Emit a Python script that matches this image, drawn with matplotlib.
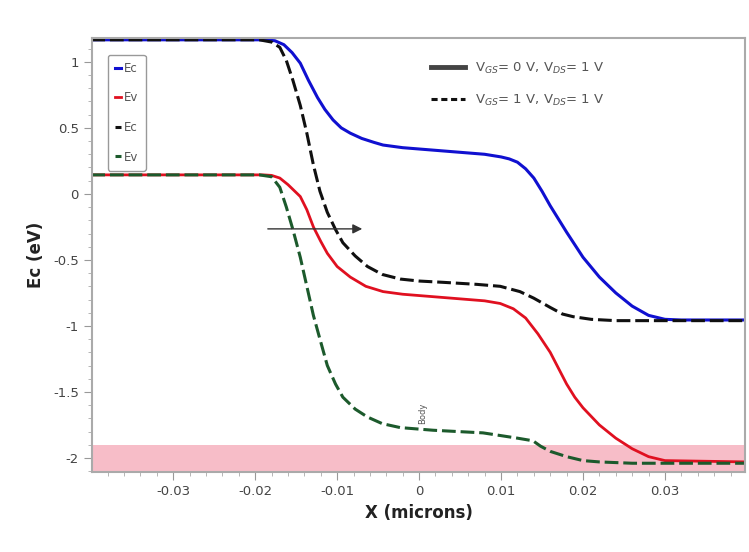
import numpy as np
import matplotlib.pyplot as plt
from matplotlib.lines import Line2D
plt.rcParams.update({'font.size': 9, 'font.family': 'DejaVu Sans'})

#%% data (x in microns, energy in eV)
x_ec0 = [-0.04, -0.019, -0.0176, -0.0165, -0.0155, -0.0145, -0.0135, -0.0124, -0.0115, -0.0105,
         -0.0095, -0.0084, -0.007, -0.0055, -0.0044, -0.002, 0.0, 0.004, 0.008, 0.010, 0.011,
         0.012, 0.013, 0.014, 0.015, 0.016, 0.018, 0.020, 0.022, 0.024, 0.026, 0.028, 0.030, 0.032, 0.04]
y_ec0 = [1.167, 1.167, 1.16, 1.13, 1.07, 0.99, 0.86, 0.73, 0.64, 0.56,
         0.50, 0.46, 0.42, 0.39, 0.37, 0.35, 0.34, 0.32, 0.30, 0.28, 0.265,
         0.24, 0.19, 0.12, 0.02, -0.09, -0.29, -0.48, -0.63, -0.75, -0.85, -0.92, -0.95, -0.955, -0.955]

x_ev0 = [-0.04, -0.019, -0.018, -0.017, -0.016, -0.0145, -0.0137, -0.0129, -0.012, -0.0112,
         -0.010, -0.0084, -0.0065, -0.0044, -0.002, 0.0, 0.004, 0.008, 0.0099, 0.0115,
         0.013, 0.0145, 0.016, 0.017, 0.018, 0.019, 0.020, 0.022, 0.024, 0.026, 0.028, 0.030, 0.04]
y_ev0 = [0.144, 0.144, 0.14, 0.12, 0.07, -0.02, -0.12, -0.25, -0.36, -0.45,
         -0.55, -0.63, -0.70, -0.74, -0.76, -0.77, -0.79, -0.81, -0.83, -0.87,
         -0.94, -1.06, -1.20, -1.32, -1.44, -1.54, -1.62, -1.75, -1.85, -1.93, -1.99, -2.02, -2.03]

x_ec1 = [-0.04, -0.0195, -0.018, -0.017, -0.0162, -0.0154, -0.0145, -0.0137, -0.0129, -0.0121,
         -0.0112, -0.0102, -0.0093, -0.0078, -0.0063, -0.0045, -0.0023, 0.0, 0.003, 0.007,
         0.0099, 0.0123, 0.014, 0.016, 0.0175, 0.0188, 0.021, 0.024, 0.04]
y_ec1 = [1.167, 1.167, 1.15, 1.11, 1.01, 0.86, 0.67, 0.46, 0.22, 0.02,
         -0.14, -0.27, -0.37, -0.47, -0.55, -0.61, -0.645, -0.66, -0.67, -0.685,
         -0.70, -0.74, -0.79, -0.86, -0.91, -0.93, -0.95, -0.96, -0.96]

x_ev1 = [-0.04, -0.0195, -0.018, -0.017, -0.0162, -0.0154, -0.0145, -0.0137, -0.0129, -0.0121,
         -0.0112, -0.0102, -0.0093, -0.0078, -0.0063, -0.0045, -0.0023, 0.0017, 0.0078, 0.012,
         0.0139, 0.0148, 0.016, 0.018, 0.020, 0.022, 0.026, 0.04]
y_ev1 = [0.144, 0.144, 0.13, 0.05, -0.10, -0.27, -0.48, -0.70, -0.92, -1.10,
         -1.30, -1.44, -1.54, -1.63, -1.69, -1.74, -1.77, -1.79, -1.81, -1.85,
         -1.87, -1.91, -1.95, -1.99, -2.02, -2.03, -2.04, -2.04]

band = (-2.1, -1.9)          # pink region
arrow_x = (-0.0188, -0.0066)
arrow_y = -0.265
xticks = [-0.03, -0.02, -0.01, 0, 0.01, 0.02, 0.03]
xtick_labels = ['-0.03', '-0.02', '-0.01', '0', '0.01', '0.02', '0.03']
yticks = [1, 0.5, 0, -0.5, -1, -1.5, -2]
ytick_labels = ['1', '0.5', '0', '-0.5', '-1', '-1.5', '-2']

#%% plot
fig = plt.figure(figsize=(7.49, 5.52), dpi=100)
ax = fig.add_axes([0.123, 0.145, 0.872, 0.786])

ax.axhspan(band[0], band[1], color='#f7b6c2', alpha=0.9, lw=0, zorder=0)

dash = (4.5, 1.6)
l1, = ax.plot(x_ec0, y_ec0, '-', color='#1010d0', lw=2.2, label='Ec')
l2, = ax.plot(x_ev0, y_ev0, '-', color='#e01020', lw=2.0, label='Ev')
l3, = ax.plot(x_ec1, y_ec1, '--', color='#101010', lw=2.2, dashes=dash, label='Ec')
l4, = ax.plot(x_ev1, y_ev1, '--', color='#1c5a2c', lw=2.2, dashes=dash, label='Ev')

ax.annotate('', xy=(arrow_x[1], arrow_y), xytext=(arrow_x[0], arrow_y),
            arrowprops=dict(arrowstyle='-|>', color='#333333', lw=1.0, mutation_scale=14))
ax.text(0.0004, -1.66, 'Body', rotation=90, fontsize=6, color='#555555', ha='center', va='center')

ax.set_xlim(-0.0399, 0.0398)
ax.set_ylim(-2.106, 1.18)
ax.set_xticks(xticks)
ax.set_xticklabels(xtick_labels)
ax.set_yticks(yticks)
ax.set_yticklabels(ytick_labels)
ax.set_xticks(np.arange(-0.038, 0.0399, 0.002), minor=True)
ax.set_yticks(np.arange(-2.1, 1.15, 0.1), minor=True)
ax.tick_params(which='major', length=6, color='#999999', labelcolor='#444444', labelsize=9.5)
ax.tick_params(which='minor', length=3, color='#aaaaaa')
for s in ax.spines.values():
    s.set_color('#aaaaaa')
    s.set_linewidth(1.5)

ax.set_xlabel('X (microns)', fontsize=12, fontweight='bold', color='#222222', labelpad=4)
ax.set_ylabel('Ec (eV)', fontsize=12, fontweight='bold', color='#222222', labelpad=6)

leg1 = ax.legend(handles=[l1, l2, l3, l4], loc='upper left', bbox_to_anchor=(0.015, 0.975),
                 fontsize=8.5, handlelength=0.5, handletextpad=0.3, labelspacing=1.4,
                 borderpad=0.6, fancybox=True, framealpha=1, edgecolor='#999999')
for t in leg1.get_texts():
    t.set_color('#555555')
ax.add_artist(leg1)

h1 = Line2D([], [], color='#444444', lw=3.5)
h2 = Line2D([], [], color='#111111', lw=2.2, linestyle='--', dashes=(2, 1.2))
leg2 = ax.legend(handles=[h1, h2],
                 labels=[r'V$_{GS}$= 0 V, V$_{DS}$= 1 V', r'V$_{GS}$= 1 V, V$_{DS}$= 1 V'],
                 loc='upper left', bbox_to_anchor=(0.5, 0.975), frameon=False,
                 fontsize=9.5, handlelength=2.6, labelspacing=1.3)
for t in leg2.get_texts():
    t.set_color('#555555')

fig.savefig('out.png', dpi=100)
